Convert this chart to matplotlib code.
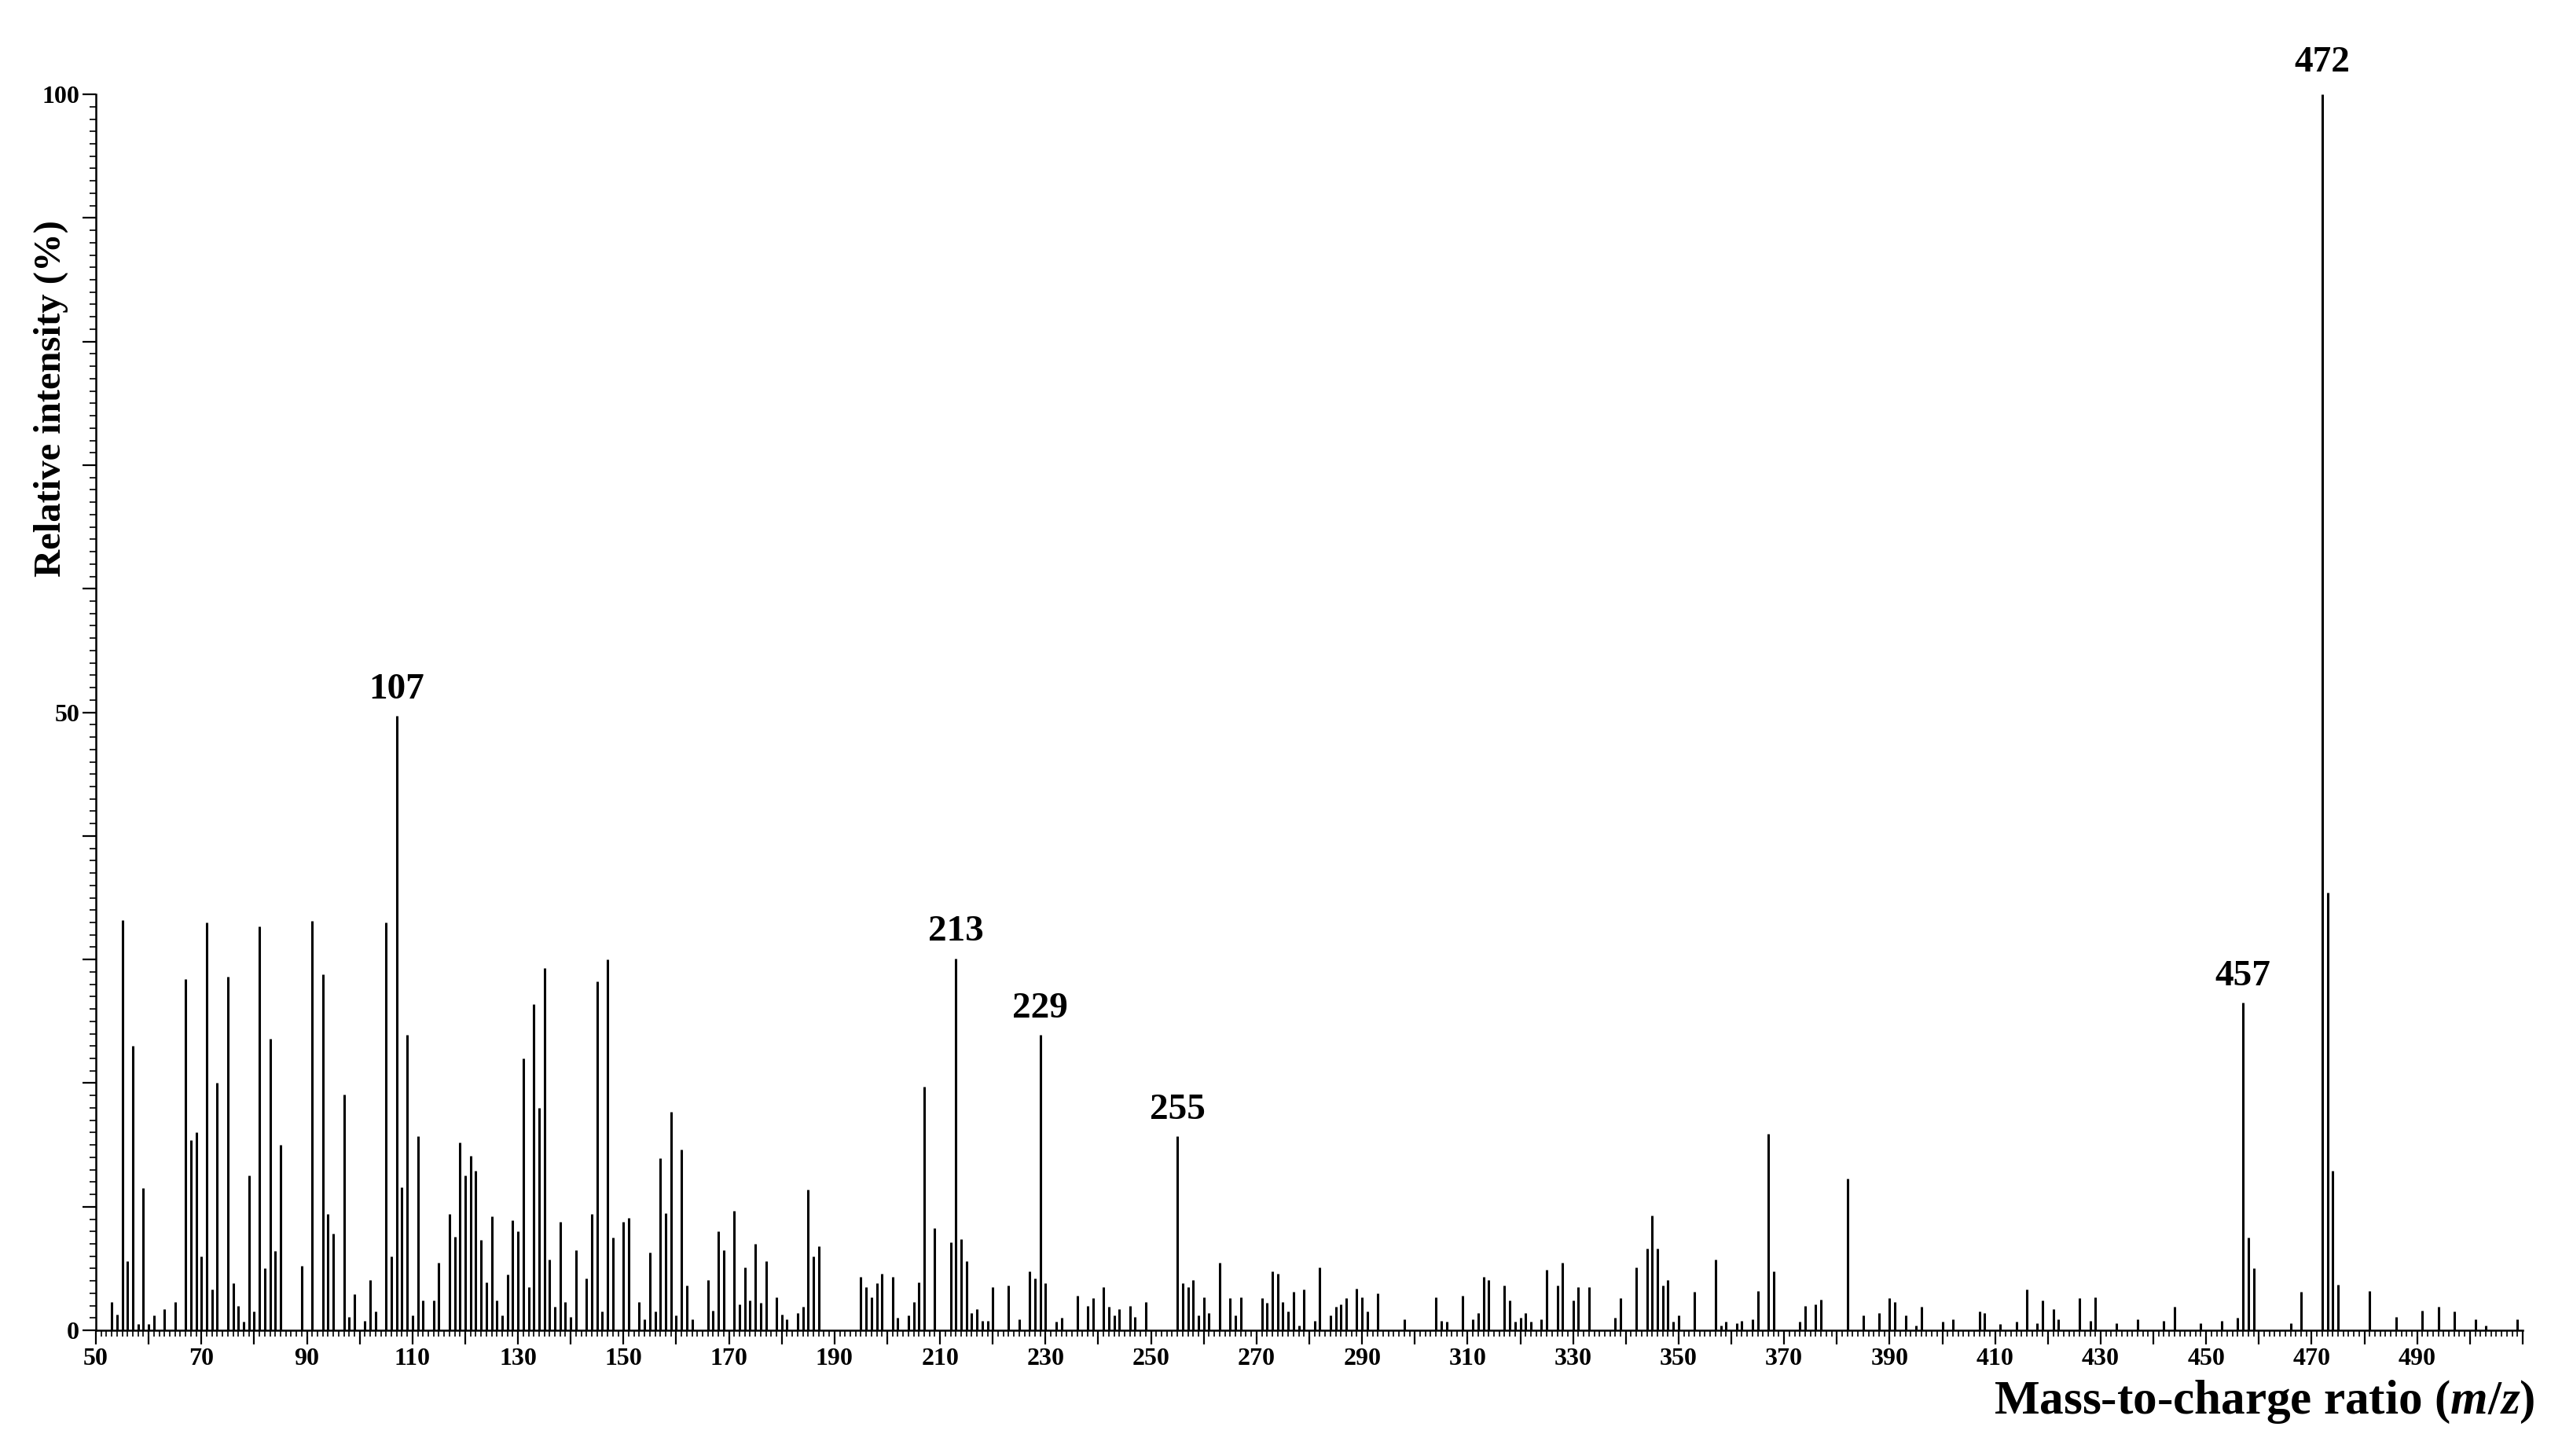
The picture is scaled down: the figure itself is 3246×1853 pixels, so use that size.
import matplotlib
matplotlib.use('Agg')
import matplotlib.pyplot as plt
from matplotlib.ticker import MultipleLocator, FuncFormatter

# m/z values and relative intensities (%)
mz = [53, 54, 55, 56, 57, 58, 59, 60, 61, 63, 65, 67, 68, 69, 70, 71, 72, 73, 75, 76,
      77, 78, 79, 80, 81, 82, 83, 84, 85, 89, 91, 93, 94, 95, 97, 98, 99, 101, 102, 103,
      105, 106, 107, 108, 109, 110, 111, 112, 114, 115, 117, 118, 119, 120, 121, 122, 123, 124, 125, 126,
      127, 128, 129, 130, 131, 132, 133, 134, 135, 136, 137, 138, 139, 140, 141, 143, 144, 145, 146, 147,
      148, 150, 151, 153, 154, 155, 156, 157, 158, 159, 160, 161, 162, 163, 166, 167, 168, 169, 171, 172,
      173, 174, 175, 176, 177, 179, 180, 181, 183, 184, 185, 186, 187, 195, 196, 197, 198, 199, 201, 202,
      204, 205, 206, 207, 209, 212, 213, 214, 215, 216, 217, 218, 219, 220, 223, 225, 227, 228, 229, 230,
      232, 233, 236, 238, 239, 241, 242, 243, 244, 246, 247, 249, 255, 256, 257, 258, 259, 260, 261, 263,
      265, 266, 267, 271, 272, 273, 274, 275, 276, 277, 278, 279, 281, 282, 284, 285, 286, 287, 289, 290,
      291, 293, 298, 304, 305, 306, 309, 311, 312, 313, 314, 317, 318, 319, 320, 321, 322, 324, 325, 327,
      328, 330, 331, 333, 338, 339, 342, 344, 345, 346, 347, 348, 349, 350, 353, 357, 358, 359, 361, 362,
      364, 365, 367, 368, 373, 374, 376, 377, 382, 385, 388, 390, 391, 393, 395, 396, 400, 402, 407, 408,
      411, 414, 416, 418, 419, 421, 422, 426, 428, 429, 433, 437, 442, 444, 449, 453, 456, 457, 458, 459,
      466, 468, 472, 473, 474, 475, 481, 486, 491, 494, 497, 501, 503, 509]
intensity = [2.3, 1.3, 33.2, 5.6, 23.0, 0.5, 11.5, 0.5, 1.2, 1.7, 2.3, 28.4, 15.4, 16.0, 6.0, 33.0, 3.3, 20.0, 28.6, 3.8,
             2.0, 0.7, 12.5, 1.5, 32.7, 5.0, 23.6, 6.4, 15.0, 5.2, 33.1, 28.8, 9.4, 7.8, 19.1, 1.1, 2.9, 0.8, 4.1, 1.5,
             33.0, 6.0, 49.7, 11.6, 23.9, 1.2, 15.7, 2.4, 2.4, 5.5, 9.4, 7.6, 15.2, 12.5, 14.1, 12.9, 7.3, 3.9, 9.2, 2.4,
             1.2, 4.5, 8.9, 8.0, 22.0, 3.5, 26.4, 18.0, 29.3, 5.7, 1.9, 8.8, 2.3, 1.1, 6.5, 4.2, 9.4, 28.2, 1.5, 30.0,
             7.5, 8.8, 9.1, 2.3, 0.9, 6.3, 1.5, 13.9, 9.5, 17.7, 1.2, 14.6, 3.6, 0.9, 4.1, 1.6, 8.0, 6.5, 9.7, 2.1,
             5.1, 2.4, 7.0, 2.2, 5.6, 2.7, 1.3, 0.9, 1.4, 1.9, 11.4, 6.0, 6.8, 4.3, 3.5, 2.7, 3.8, 4.6, 4.3, 1.0,
             1.2, 2.3, 3.9, 19.7, 8.3, 7.1, 30.1, 7.4, 5.6, 1.4, 1.7, 0.8, 0.8, 3.5, 3.6, 0.9, 4.8, 4.2, 23.9, 3.8,
             0.7, 1.0, 2.8, 2.0, 2.6, 3.5, 1.9, 1.2, 1.7, 2.0, 1.1, 2.3, 15.7, 3.8, 3.5, 4.1, 1.2, 2.7, 1.4, 5.5,
             2.6, 1.2, 2.7, 2.6, 2.2, 4.8, 4.6, 2.3, 1.5, 3.1, 0.4, 3.3, 0.8, 5.1, 1.2, 1.9, 2.1, 2.6, 3.4, 2.7,
             1.5, 3.0, 0.9, 2.7, 0.8, 0.7, 2.8, 0.9, 1.4, 4.3, 4.1, 3.6, 2.4, 0.7, 1.0, 1.4, 0.7, 0.9, 4.9, 3.6,
             5.5, 2.4, 3.5, 3.5, 1.0, 2.6, 5.1, 6.6, 9.3, 6.6, 3.6, 4.1, 0.7, 1.2, 3.1, 5.7, 0.4, 0.7, 0.6, 0.8,
             0.9, 3.2, 15.9, 4.8, 0.7, 2.0, 2.1, 2.5, 12.3, 1.2, 1.4, 2.6, 2.3, 1.2, 0.4, 1.9, 0.7, 0.9, 1.5, 1.4,
             0.5, 0.7, 3.3, 0.6, 2.4, 1.7, 0.9, 2.6, 0.8, 2.7, 0.6, 0.9, 0.8, 1.9, 0.6, 0.8, 1.0, 26.5, 7.5, 5.0,
             0.6, 3.1, 100.0, 35.4, 12.9, 3.7, 3.2, 1.1, 1.6, 1.9, 1.5, 0.9, 0.4, 0.9]
labelled_peaks = [107, 213, 229, 255, 457, 472]

plt.rcParams['font.family'] = 'Liberation Serif'
plt.rcParams['font.weight'] = 'bold'
plt.rcParams['mathtext.fontset'] = 'custom'
plt.rcParams['mathtext.it'] = 'Liberation Serif:italic:bold'
plt.rcParams['mathtext.rm'] = 'Liberation Serif:bold'

fig = plt.figure(figsize=(32.46, 18.53), dpi=100)
ax = fig.add_axes([0.0376, 0.0863, 0.9513, 0.8489])

ax.vlines(mz, 0, intensity, color='black', linewidth=2.2)

for m in labelled_peaks:
    h = intensity[mz.index(m)]
    off = 14 if m == 472 else 9
    ax.annotate(str(m), (m, h), xytext=(0, off), textcoords='offset points',
                ha='center', va='bottom', fontsize=34, fontweight='bold',
                annotation_clip=False)

ax.set_xlim(50, 510)
ax.set_ylim(0, 100)

for s in ['top', 'right']:
    ax.spines[s].set_visible(False)
for s in ['left', 'bottom']:
    ax.spines[s].set_linewidth(1.8)

ax.xaxis.set_major_locator(MultipleLocator(10))
ax.xaxis.set_minor_locator(MultipleLocator(1))
ax.xaxis.set_major_formatter(FuncFormatter(
    lambda v, p: str(int(v)) if int(v) % 20 == 10 and v < 500 else ''))
ax.yaxis.set_major_locator(MultipleLocator(10))
ax.yaxis.set_minor_locator(MultipleLocator(1))
ax.yaxis.set_major_formatter(FuncFormatter(lambda v, p: str(int(v)) if int(v) % 50 == 0 else ''))

ax.tick_params(axis='x', which='major', direction='out', length=13, width=1.6, labelsize=23, pad=3)
ax.tick_params(axis='x', which='minor', direction='out', length=6, width=1.2)
ax.tick_params(axis='y', which='major', direction='out', length=12, width=1.6, labelsize=23, pad=3)
ax.tick_params(axis='y', which='minor', direction='out', length=6, width=1.2)

ax.set_ylabel('Relative intensity (%)', fontsize=35, fontweight='bold')
ax.yaxis.set_label_coords(-0.0113, 0.754)
ax.set_xlabel('Mass-to-charge ratio ($m/z$)', fontsize=44, fontweight='bold', ha='right')
ax.xaxis.set_label_coords(1.005, -0.058)
ax.xaxis.label.set_va('center')

fig.savefig('out.png', dpi=100)
